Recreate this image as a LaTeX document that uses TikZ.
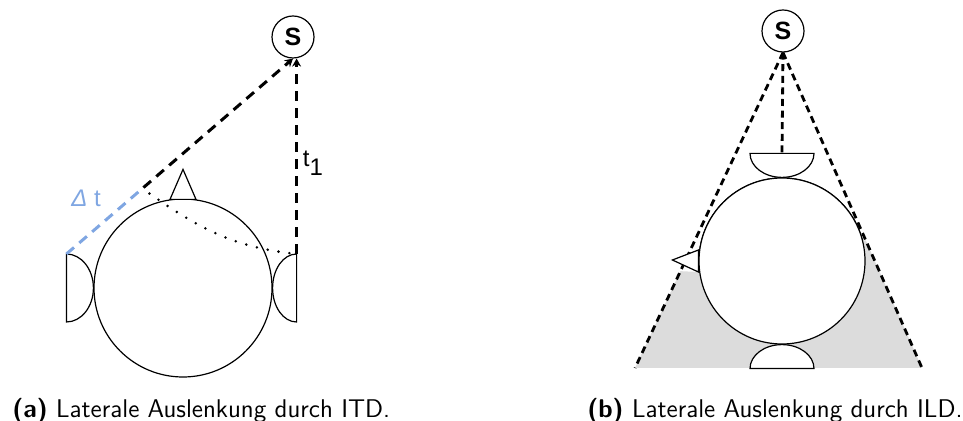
\documentclass[tikz,border=0pt]{standalone}
\usepackage{fontspec}
\newfontfamily\arial{Liberation Sans}
\usetikzlibrary{arrows.meta, positioning, calc}
\definecolor{mblue}{HTML}{7FA6E2}
\definecolor{mshade}{HTML}{DCDCDC}
\tikzstyle{source} = [circle, draw, line width=0.6pt, minimum size=21pt, inner sep=0pt, fill=white, font=\arial\bfseries\fontsize{12.5}{14}\selectfont]
\tikzstyle{head} = [circle, draw, line width=0.6pt, fill=white, inner sep=0pt]
\tikzstyle{ear} = [draw, line width=0.6pt, fill=white]
\tikzstyle{sound} = [line width=1.5pt, dash pattern=on 5pt off 3.5pt]
\tikzstyle{soundarrow} = [sound, -{Stealth[length=4pt, width=4.5pt]}]
\tikzstyle{detour} = [line width=1.4pt, line cap=round, dash pattern=on 0pt off 5.5pt]
\tikzstyle{wave} = [line width=1.4pt, dash pattern=on 3.5pt off 2.3pt]
\tikzstyle{lbl} = [inner sep=0pt, font=\arial\fontsize{12}{14}\selectfont]
\tikzstyle{caption} = [anchor=base west, inner sep=0pt, font=\sffamily\fontsize{12.8}{15}\selectfont]

\begin{document}
\begin{tikzpicture}[x=0.5pt, y=0.5pt]
  \useasboundingbox (0,0) rectangle (963,-421);

  % (a) ITD
  \node (headA) [head, minimum size=89pt] at (183,-288) {};
  \node (srcA) [source] at (293,-37) {S};
  \coordinate (earAL) at ($(headA.west)+(-27,34)$);
  \coordinate (earAR) at ($(headA.east)+(24,34)$);
  \coordinate (wfA) at ($(earAL)!0.34!(srcA.south)$);
  \draw [ear] (earAL) arc[start angle=90, end angle=-90, x radius=27, y radius=34] -- cycle;
  \draw [ear] (earAR) arc[start angle=90, end angle=270, x radius=24, y radius=34] -- cycle;
  \draw [ear] ($(headA.north)+(-13,-1)$) -- ++(13,30) -- ++(13,-30) -- cycle;
  \draw [sound, mblue] (earAL) -- (wfA);
  \draw [soundarrow] (wfA) -- (srcA.south);
  \draw [soundarrow] (earAR) -- (earAR |- srcA.south);
  \draw [detour] ($(wfA)+(6,-6)$) to[out=-35, in=174] (earAR);
  \node (dt) [lbl, mblue] at (86,-198) {{\itshape Δ} t};
  \node (t1) [lbl] at (313,-163) {t\raisebox{-4.5pt}{1}};

  % (b) ILD
  \node (srcB) [source] at (783,-31) {S};
  \node (headB) [head, minimum size=83pt] at (782,-261) {};
  \coordinate (coneL) at (635,-368);
  \coordinate (coneR) at (922,-368);
  \coordinate (earBT) at ($(headB.north)+(0,24)$);
  \fill [mshade] ($(srcB.south)!0.693!(coneL)$) -- ($(headB.west)+(0,-11)$)
    -- ($(srcB.south)!0.595!(coneR)$) -- (coneR) -- (coneL) -- cycle;
  \node [head, minimum size=83pt] at (headB) {};
  \draw [ear] ($(headB.north)+(-32,24)$) arc[start angle=180, end angle=360, x radius=32, y radius=24] -- cycle;
  \draw [ear] ($(headB.south)+(-32,-24)$) arc[start angle=180, end angle=0, x radius=32, y radius=24] -- cycle;
  \draw [wave] (srcB.south) -- (coneL);
  \draw [wave] (srcB.south) -- (coneR);
  \draw [wave] (srcB.south) -- (earBT);
  \draw [ear] ($(headB.west)+(0,11)$) -- ++(-26,-10) -- ++(26,-12) -- cycle;

  % captions
  \node (capA) [caption] at (12,-418) {{\bfseries (a)} Laterale Auslenkung durch ITD.};
  \node (capB) [caption] at (587,-418) {{\bfseries (b)} Laterale Auslenkung durch ILD.};
\end{tikzpicture}
\end{document}
